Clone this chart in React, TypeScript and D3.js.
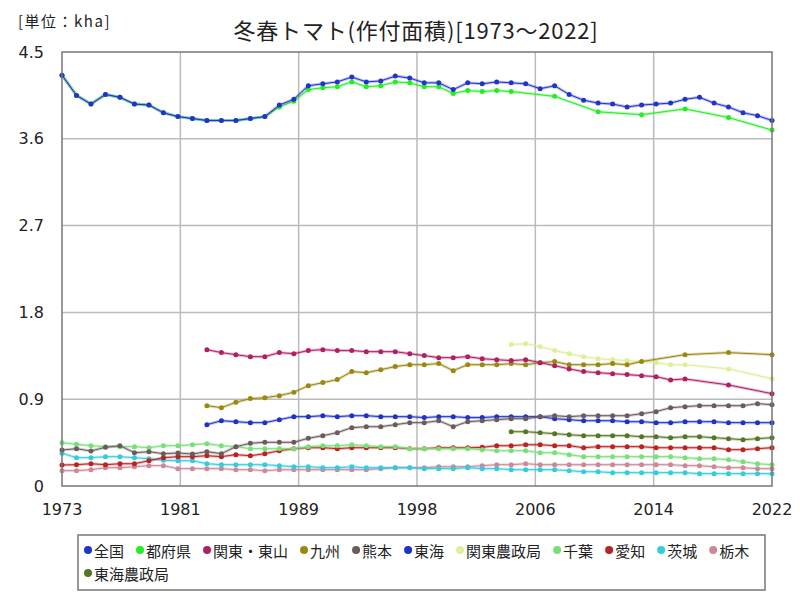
import React, { useRef, useEffect } from 'react';
import * as d3 from 'd3';

// 年 (1973〜2022)
const years: number[] = d3.range(1973, 2023);

const seriesNames = [
  '全国', '都府県', '関東・東山', '九州', '熊本', '東海',
  '関東農政局', '千葉', '愛知', '茨城', '栃木', '東海農政局',
];

const seriesColors = [
  '#2233cc', '#22ee22', '#b01f64', '#998811', '#6b5b5b', '#1e32c8',
  '#e0ee99', '#77e077', '#bb2222', '#33ccdd', '#cc8899', '#557722',
];

const N = null;

const zenkoku = [
  4.26, 4.05, 3.96, 4.06, 4.03, 3.96, 3.95, 3.87, 3.83, 3.81,
  3.79, 3.79, 3.79, 3.81, 3.83, 3.95, 4.01, 4.15, 4.17, 4.19,
  4.24, 4.19, 4.2, 4.25, 4.23, 4.18, 4.18, 4.11, 4.18, 4.17,
  4.19, 4.18, 4.17, 4.12, 4.15, 4.06, 4.0, 3.97, 3.96, 3.93,
  3.95, 3.96, 3.97, 4.01, 4.03, 3.97, 3.93, 3.87, 3.84, 3.79,
];
const tofuken = [
  4.26, 4.05, 3.96, 4.06, 4.03, 3.96, 3.95, 3.87, 3.83, 3.81,
  3.79, 3.79, 3.79, 3.81, 3.83, 3.93, 3.99, 4.11, 4.13, 4.14,
  4.19, 4.14, 4.15, 4.19, 4.18, 4.14, 4.14, 4.07, 4.1, 4.09,
  4.1, 4.09, N, N, 4.04, N, N, 3.88, N, N,
  3.85, N, N, 3.91, N, N, 3.82, N, N, 3.69,
];
const kantoTosan = [
  N, N, N, N, N, N, N, N, N, N,
  1.414, 1.383, 1.362, 1.341, 1.341, 1.383, 1.372, 1.404, 1.414, 1.404,
  1.404, 1.393, 1.393, 1.393, 1.372, 1.352, 1.331, 1.331, 1.341, 1.32,
  1.31, 1.3, 1.31, 1.279, 1.248, 1.214, 1.186, 1.175, 1.165, 1.155,
  1.144, 1.134, 1.1, 1.11, N, N, 1.048, N, N, 0.957,
];
const kyushu = [
  N, N, N, N, N, N, N, N, N, N,
  0.833, 0.812, 0.868, 0.906, 0.916, 0.937, 0.972, 1.04, 1.072, 1.103,
  1.186, 1.175, 1.206, 1.238, 1.258, 1.258, 1.269, 1.196, 1.258, 1.258,
  1.258, 1.269, 1.258, 1.279, 1.29, 1.258, 1.258, 1.258, 1.269, 1.258,
  1.29, N, N, 1.362, N, N, 1.383, N, N, 1.362,
];
const kumamoto = [
  0.373, 0.387, 0.363, 0.401, 0.418, 0.345, 0.356, 0.335, 0.342, 0.332,
  0.356, 0.335, 0.408, 0.443, 0.453, 0.453, 0.453, 0.495, 0.522, 0.553,
  0.605, 0.615, 0.615, 0.636, 0.657, 0.657, 0.677, 0.615, 0.667, 0.677,
  0.688, 0.698, 0.698, 0.719, 0.729, 0.719, 0.729, 0.729, 0.729, 0.729,
  0.75, 0.771, 0.812, 0.823, 0.833, 0.833, 0.833, 0.833, 0.854, 0.843,
];
const tokai = [
  N, N, N, N, N, N, N, N, N, N,
  0.636, 0.677, 0.667, 0.657, 0.657, 0.688, 0.719, 0.719, 0.729, 0.719,
  0.729, 0.729, 0.719, 0.719, 0.719, 0.709, 0.719, 0.719, 0.709, 0.709,
  0.719, 0.719, 0.719, 0.719, 0.698, 0.688, 0.677, 0.677, 0.677, 0.667,
  0.667, 0.657, 0.657, 0.667, 0.667, 0.667, 0.657, 0.657, 0.657, 0.657,
];
const kantoNoseikyoku = [
  N, N, N, N, N, N, N, N, N, N,
  N, N, N, N, N, N, N, N, N, N,
  N, N, N, N, N, N, N, N, N, N,
  N, 1.466, 1.476, 1.445, 1.404, 1.372, 1.341, 1.32, 1.31, 1.3,
  1.29, 1.279, 1.258, 1.258, N, N, 1.214, N, N, 1.113,
];
const chiba = [
  0.449, 0.432, 0.418, 0.408, 0.408, 0.408, 0.397, 0.418, 0.418, 0.428,
  0.439, 0.418, 0.408, 0.387, 0.387, 0.387, 0.387, 0.408, 0.418, 0.418,
  0.428, 0.418, 0.408, 0.408, 0.387, 0.387, 0.387, 0.387, 0.387, 0.377,
  0.366, 0.366, 0.366, 0.345, 0.345, 0.325, 0.304, 0.304, 0.304, 0.304,
  0.304, 0.304, 0.304, 0.294, 0.283, 0.283, 0.273, 0.252, 0.231, 0.221,
];
const aichi = [
  0.218, 0.221, 0.231, 0.221, 0.231, 0.231, 0.262, 0.294, 0.304, 0.304,
  0.314, 0.304, 0.325, 0.314, 0.335, 0.366, 0.387, 0.397, 0.397, 0.387,
  0.397, 0.397, 0.397, 0.397, 0.387, 0.387, 0.397, 0.397, 0.397, 0.401,
  0.418, 0.418, 0.428, 0.428, 0.418, 0.418, 0.397, 0.408, 0.408, 0.408,
  0.408, 0.397, 0.397, 0.397, 0.397, 0.397, 0.377, 0.377, 0.387, 0.397,
];
const ibaraki = [
  0.339, 0.294, 0.294, 0.304, 0.304, 0.294, 0.283, 0.266, 0.262, 0.262,
  0.231, 0.221, 0.221, 0.221, 0.221, 0.211, 0.2, 0.2, 0.19, 0.19,
  0.2, 0.19, 0.19, 0.19, 0.19, 0.18, 0.18, 0.18, 0.19, 0.18,
  0.18, 0.169, 0.169, 0.169, 0.169, 0.159, 0.148, 0.148, 0.138, 0.138,
  0.138, 0.138, 0.138, 0.138, 0.128, 0.128, 0.128, 0.128, 0.128, 0.128,
];
const tochigi = [
  0.159, 0.159, 0.169, 0.19, 0.19, 0.2, 0.211, 0.211, 0.18, 0.18,
  0.18, 0.18, 0.169, 0.169, 0.159, 0.169, 0.169, 0.169, 0.169, 0.169,
  0.169, 0.169, 0.18, 0.19, 0.19, 0.19, 0.2, 0.2, 0.2, 0.211,
  0.221, 0.221, 0.231, 0.221, 0.221, 0.221, 0.221, 0.221, 0.221, 0.221,
  0.221, 0.221, 0.221, 0.211, 0.211, 0.2, 0.19, 0.19, 0.18, 0.18,
];
const tokaiNoseikyoku = [
  N, N, N, N, N, N, N, N, N, N,
  N, N, N, N, N, N, N, N, N, N,
  N, N, N, N, N, N, N, N, N, N,
  N, 0.563, 0.563, 0.553, 0.543, 0.532, 0.522, 0.522, 0.522, 0.522,
  0.511, 0.511, 0.501, 0.511, 0.511, 0.501, 0.491, 0.48, 0.491, 0.501,
];

const seriesValues = [
  zenkoku, tofuken, kantoTosan, kyushu, kumamoto, tokai,
  kantoNoseikyoku, chiba, aichi, ibaraki, tochigi, tokaiNoseikyoku,
];

const yTicks = [0, 0.9, 1.8, 2.7, 3.6, 4.5];

const W = 800;
const H = 600;
const JP = '"Noto Sans CJK JP", "Noto Sans", sans-serif';
const NUM = '"DejaVu Sans", sans-serif';

function App() {
  const svgRef = useRef<SVGSVGElement>(null);

  useEffect(() => {
    const svg = d3.select(svgRef.current);
    svg.selectAll('*').remove();

    const left = 62, right = 772, top = 52, bottom = 486;

    const x = d3.scaleLinear().domain([1973, 2022]).range([left, right]);
    const y = d3.scaleLinear().domain([0, 4.5]).range([bottom, top]);

    svg.append('rect').attr('width', W).attr('height', H).attr('fill', '#fff');

    // グリッド
    const xTicks = d3.range(7).map((i) => 1973 + (i * 49) / 6);
    const grid = svg.append('g').attr('stroke', '#bbbbbb').attr('stroke-width', 1.5);
    yTicks.slice(1, -1).forEach((t) => {
      grid.append('line').attr('x1', left).attr('x2', right).attr('y1', y(t)).attr('y2', y(t));
    });
    xTicks.slice(1, -1).forEach((t) => {
      grid.append('line').attr('x1', x(t)).attr('x2', x(t)).attr('y1', top).attr('y2', bottom);
    });

    // 系列 (先頭の系列を最前面に)
    const line = d3
      .line<[number, number | null]>()
      .defined((d) => d[1] !== null)
      .x((d) => x(d[0]))
      .y((d) => y(d[1] as number));

    for (let s = seriesValues.length - 1; s >= 0; s--) {
      const pts = years
        .map((yr, i) => [yr, seriesValues[s][i]] as [number, number | null])
        .filter((d) => d[1] !== null);
      const g = svg.append('g');
      g.append('path')
        .datum(pts)
        .attr('fill', 'none')
        .attr('stroke', seriesColors[s])
        .attr('stroke-opacity', 0.3)
        .attr('stroke-width', 3)
        .attr('d', line);
      g.append('path')
        .datum(pts)
        .attr('fill', 'none')
        .attr('stroke', seriesColors[s])
        .attr('stroke-width', 1)
        .attr('d', line);
      g.selectAll('circle')
        .data(pts)
        .join('circle')
        .attr('cx', (d) => x(d[0]))
        .attr('cy', (d) => y(d[1] as number))
        .attr('r', 2.5)
        .attr('fill', seriesColors[s]);
    }

    // 枠
    svg
      .append('rect')
      .attr('x', left)
      .attr('y', top)
      .attr('width', right - left)
      .attr('height', bottom - top)
      .attr('fill', 'none')
      .attr('stroke', '#777777')
      .attr('stroke-width', 1.5);

    // 軸ラベル
    yTicks.forEach((t) => {
      svg
        .append('text')
        .attr('x', 44)
        .attr('y', y(t))
        .attr('text-anchor', 'end')
        .attr('dominant-baseline', 'central')
        .attr('font-family', NUM)
        .attr('font-size', 16)
        .attr('fill', '#222')
        .text(t === 0 ? '0' : t.toFixed(1));
    });
    xTicks.forEach((t) => {
      svg
        .append('text')
        .attr('x', x(t))
        .attr('y', 509)
        .attr('text-anchor', 'middle')
        .attr('dominant-baseline', 'central')
        .attr('font-family', NUM)
        .attr('font-size', 16)
        .attr('fill', '#222')
        .text(Math.round(t));
    });

    // タイトル
    svg
      .append('text')
      .attr('x', 416)
      .attr('y', 29)
      .attr('text-anchor', 'middle')
      .attr('dominant-baseline', 'central')
      .attr('font-family', JP)
      .attr('font-size', 22)
      .attr('letter-spacing', 0.8)
      .attr('fill', '#222')
      .text('冬春トマト(作付面積)[1973～2022]');

    svg
      .append('text')
      .attr('x', 18)
      .attr('y', 20)
      .attr('dominant-baseline', 'central')
      .attr('font-family', JP)
      .attr('font-size', 15)
      .attr('letter-spacing', 1.5)
      .attr('fill', '#222')
      .text('[単位：kha]');

    // 凡例
    svg
      .append('rect')
      .attr('x', 78)
      .attr('y', 535)
      .attr('width', 687)
      .attr('height', 55)
      .attr('fill', '#fff')
      .attr('stroke', '#777777')
      .attr('stroke-width', 1.5);

    let lx = 88;
    let ly = 550;
    seriesNames.forEach((name, i) => {
      const item = svg.append('g');
      const txt = item
        .append('text')
        .attr('x', lx + 6)
        .attr('y', ly)
        .attr('dominant-baseline', 'central')
        .attr('font-family', JP)
        .attr('font-size', 15)
        .attr('fill', '#222')
        .text(name);
      const w = (txt.node() as SVGTextElement).getComputedTextLength();
      if (lx + 6 + w > 760) {
        lx = 88;
        ly += 23;
        txt.attr('x', lx + 6).attr('y', ly);
      }
      item
        .append('circle')
        .attr('cx', lx)
        .attr('cy', ly)
        .attr('r', 4)
        .attr('fill', seriesColors[i]);
      lx += 6 + w + 16;
    });
  }, []);

  return (
    <svg
      ref={svgRef}
      width={W}
      height={H}
      style={{ position: 'absolute', left: 0, top: 0, display: 'block' }}
      xmlns="http://www.w3.org/2000/svg"
    />
  );
}

export default App;
